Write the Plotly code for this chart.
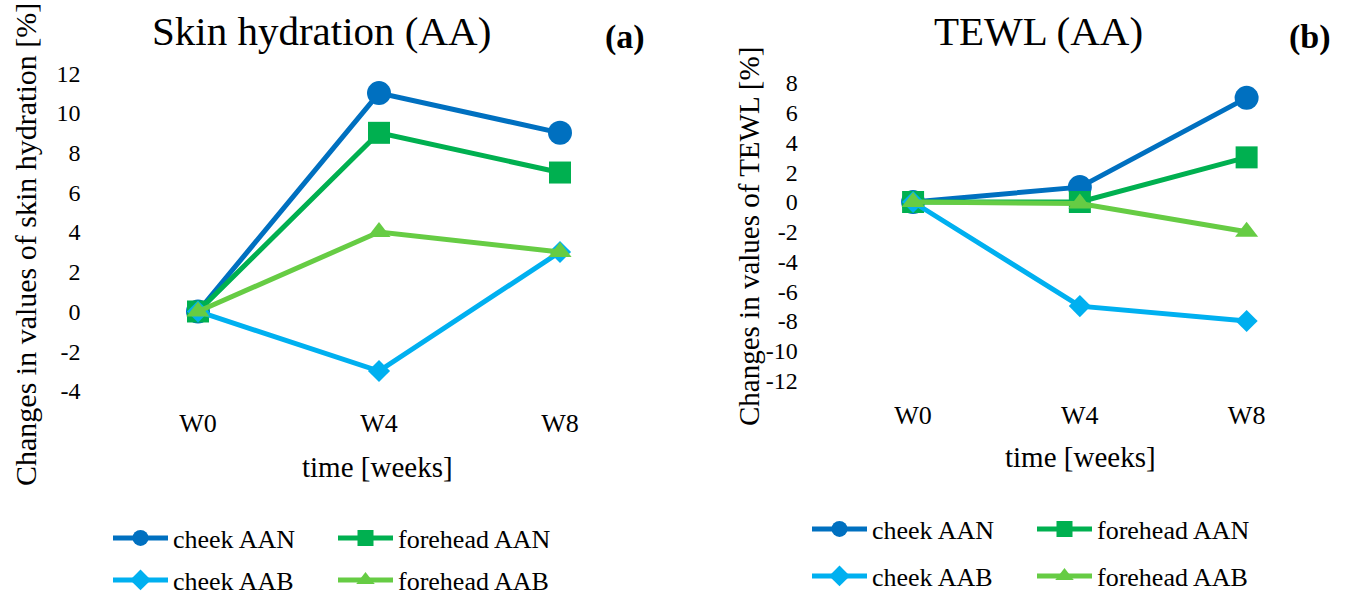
import plotly.graph_objects as go

weeks = ["W0", "W4", "W8"]
series_names = ["cheek AAN", "forehead AAN", "cheek AAB", "forehead AAB"]

hydration_cheek_aan = [0, 11, 9]
hydration_forehead_aan = [0, 9, 7]
hydration_cheek_aab = [0, -3, 3]
hydration_forehead_aab = [0, 4, 3]

tewl_cheek_aan = [0, 1, 7]
tewl_forehead_aan = [0, 0, 3]
tewl_cheek_aab = [0, -7, -8]
tewl_forehead_aab = [0, -0.1, -2]

hydration_ticks = [-4, -2, 0, 2, 4, 6, 8, 10, 12]
tewl_ticks = [-12, -10, -8, -6, -4, -2, 0, 2, 4, 6, 8]

colors = ["#0070C0", "#00B050", "#00B0F0", "#66CC44"]
symbols = ["circle", "square", "diamond", "triangle-up"]
msizes = [24, 22, 17, 20]

FONT = "Liberation Serif"
W, H = 1346, 598


def px(x):
    return x / W


def py(y):
    return 1 - y / H


fig = go.Figure()

hyd = [hydration_cheek_aan, hydration_forehead_aan, hydration_cheek_aab, hydration_forehead_aab]
tew = [tewl_cheek_aan, tewl_forehead_aan, tewl_cheek_aab, tewl_forehead_aab]

for i, (name, vals) in enumerate(zip(series_names, hyd)):
    fig.add_trace(go.Scatter(
        x=weeks, y=vals, name=name, mode="lines+markers",
        line=dict(color=colors[i], width=5),
        marker=dict(symbol=symbols[i], size=msizes[i], color=colors[i]),
        xaxis="x", yaxis="y", cliponaxis=False,
        legend="legend" if i < 2 else "legend2",
    ))

for i, (name, vals) in enumerate(zip(series_names, tew)):
    fig.add_trace(go.Scatter(
        x=weeks, y=vals, name=name, mode="lines+markers",
        line=dict(color=colors[i], width=5),
        marker=dict(symbol=symbols[i], size=msizes[i], color=colors[i]),
        xaxis="x2", yaxis="y2", cliponaxis=False,
        legend="legend3" if i < 2 else "legend4",
    ))

tickfont = dict(family=FONT, size=24, color="black")
xtickfont = dict(family=FONT, size=26, color="black")

axis_common = dict(showgrid=False, zeroline=False, showline=False, ticks="", automargin=False)

fig.update_layout(
    width=W, height=H,
    margin=dict(l=0, r=0, t=0, b=0, autoexpand=False),
    paper_bgcolor="white", plot_bgcolor="white",
    font=dict(family=FONT, color="black"),
    xaxis=dict(domain=[px(107.5), px(650.5)], type="category", range=[-0.5, 2.5],
               tickfont=xtickfont, **axis_common),
    yaxis=dict(domain=[py(405), py(55)], range=[-4.71, 12.92], tickvals=hydration_ticks,
               ticktext=[str(v) for v in hydration_ticks],
               tickfont=tickfont, ticklabelstandoff=26, **axis_common),
    xaxis2=dict(domain=[px(829.7), px(1330)], type="category", range=[-0.5, 2.5],
                tickfont=xtickfont, anchor="y2", **axis_common),
    yaxis2=dict(domain=[py(397), py(70)], range=[-13.11, 8.874], tickvals=tewl_ticks,
                ticktext=[str(v) for v in tewl_ticks],
                tickfont=tickfont, ticklabelstandoff=31, anchor="x2", **axis_common),
)

leg_common = dict(orientation="h", xanchor="left", yanchor="middle",
                  font=dict(family=FONT, size=26, color="black"),
                  itemwidth=55, entrywidthmode="pixels", entrywidth=155,
                  bgcolor="rgba(0,0,0,0)", traceorder="normal", itemclick=False)
fig.update_layout(
    legend=dict(x=px(108), y=py(538), **leg_common),
    legend2=dict(x=px(108), y=py(580), **leg_common),
    legend3=dict(x=px(807), y=py(529), **leg_common),
    legend4=dict(x=px(807), y=py(576), **leg_common),
)

annotations = [
    dict(text="Skin hydration (AA)", x=px(321), y=py(31), size=41),
    dict(text="<b>(a)</b>", x=px(625), y=py(37), size=34),
    dict(text="TEWL (AA)", x=px(1038), y=py(31), size=41),
    dict(text="<b>(b)</b>", x=px(1310), y=py(37), size=34),
    dict(text="time [weeks]", x=px(377), y=py(467), size=29),
    dict(text="time [weeks]", x=px(1080), y=py(457), size=29),
]
for a in annotations:
    fig.add_annotation(text=a["text"], x=a["x"], y=a["y"], xref="paper", yref="paper",
                       xanchor="center", yanchor="middle", showarrow=False,
                       font=dict(family=FONT, size=a["size"], color="black"))

fig.add_annotation(text="Changes in values of skin hydration [%]", x=px(25), y=py(245),
                   xref="paper", yref="paper", textangle=-90, showarrow=False,
                   xanchor="center", yanchor="middle",
                   font=dict(family=FONT, size=30, color="black"))
fig.add_annotation(text="Changes in values of TEWL [%]", x=px(749), y=py(237),
                   xref="paper", yref="paper", textangle=-90, showarrow=False,
                   xanchor="center", yanchor="middle",
                   font=dict(family=FONT, size=29, color="black"))

fig.write_html("out.html", config={"displayModeBar": False},
               post_script="document.body.style.margin='0';")
